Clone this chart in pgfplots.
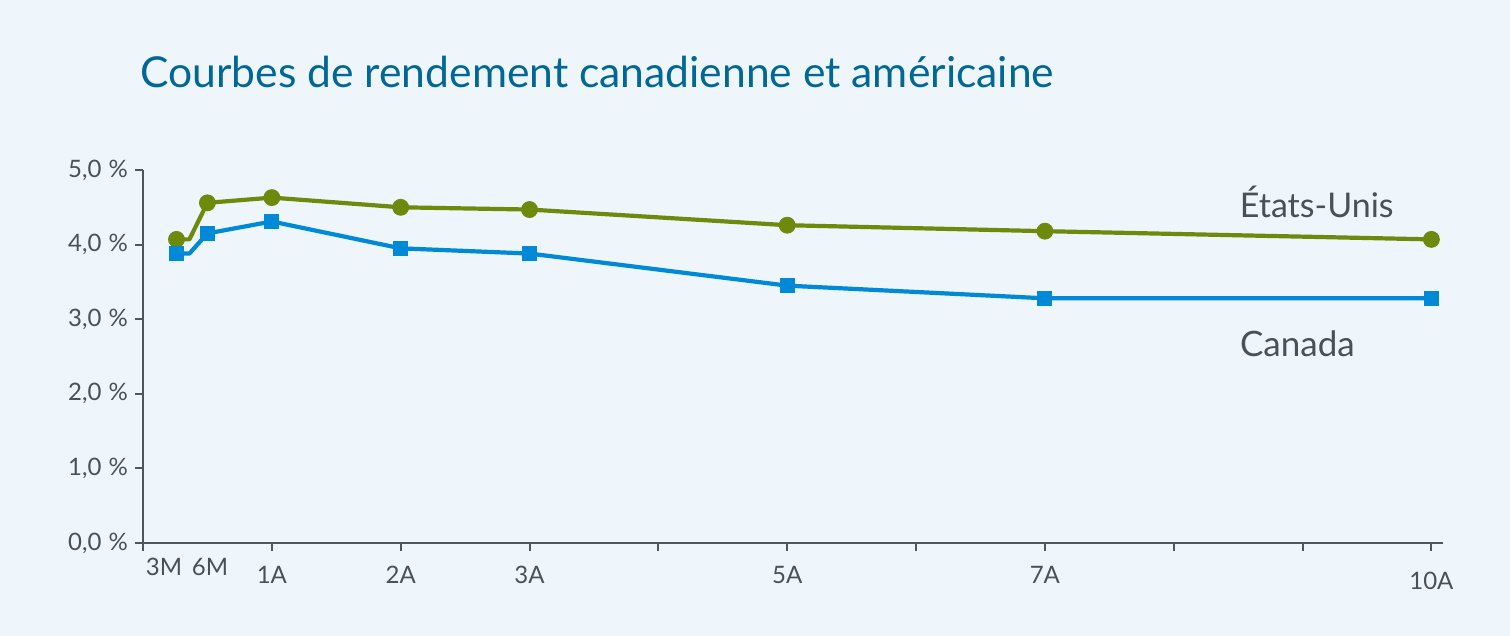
\documentclass[border=0pt]{standalone}
\usepackage{pgfplots}
\pgfplotsset{compat=1.18}
\usepackage{fontspec}
\setmainfont{Lato}
\definecolor{bg}{RGB}{238,245,251}
\definecolor{usgreen}{RGB}{110,138,12}
\definecolor{cablue}{RGB}{0,137,214}
\definecolor{titleblue}{RGB}{0,103,150}
\definecolor{txt}{RGB}{74,80,90}
\definecolor{axisc}{RGB}{80,84,92}
\begin{document}
\begin{tikzpicture}
\path[use as bounding box] (-71.5pt,-46.5pt) rectangle (683.5pt,271.5pt);
\fill[bg] (-71.5pt,-46.5pt) rectangle (683.5pt,271.5pt);
\node[anchor=base west, text=titleblue, font=\fontsize{21.3}{25}\selectfont, inner sep=0pt] at (-1.5pt,227.5pt) {Courbes de rendement canadienne et américaine};
\begin{axis}[
  at={(0pt,0pt)}, anchor=south west,
  scale only axis, width=650pt, height=186.5pt,
  xmin=0, xmax=10.09, ymin=0, ymax=5,
  axis x line*=bottom, axis y line*=left,
  axis line style={axisc, line width=1pt, -},
  xtick={0,1,2,3,4,5,6,7,8,9,10},
  xticklabels={,1A,2A,3A,,5A,,7A,,,},
  extra x ticks={0.163,0.52},
  extra x tick labels={3M,6M},
  extra x tick style={major tick length=0pt},
  ytick={0,1,2,3,4,5},
  yticklabels={{0,0\hspace{0.3em}\%},{1,0\hspace{0.3em}\%},{2,0\hspace{0.3em}\%},{3,0\hspace{0.3em}\%},{4,0\hspace{0.3em}\%},{5,0\hspace{0.3em}\%}},
  tick align=outside, major tick length=4pt,
  tick style={axisc, line width=1pt},
  tick label style={text=txt, font=\fontsize{12}{14}\selectfont},
  xticklabel style={yshift=-4pt},
  yticklabel style={xshift=0pt},
  clip=false,
]
\addplot[usgreen, line width=2.1pt, line join=round] coordinates {
 (0.26,4.07) (0.36,4.07) (0.5,4.56) (1,4.63) (2,4.50) (3,4.47) (5,4.26) (7,4.18) (10,4.07)};
\addplot[cablue, line width=2.1pt, line join=round] coordinates {
 (0.26,3.88) (0.36,3.88) (0.5,4.15) (1,4.31) (2,3.95) (3,3.88) (5,3.45) (7,3.28) (10,3.28)};
\addplot[only marks, mark=*, mark size=4pt, usgreen, mark options={fill=usgreen, draw=usgreen}] coordinates {
 (0.26,4.07) (0.5,4.56) (1,4.63) (2,4.50) (3,4.47) (5,4.26) (7,4.18) (10,4.07)};
\addplot[only marks, mark=square*, mark size=3.5pt, cablue, mark options={fill=cablue, draw=cablue}] coordinates {
 (0.26,3.88) (0.5,4.15) (1,4.31) (2,3.95) (3,3.88) (5,3.45) (7,3.28) (10,3.28)};
\node[text=txt, font=\fontsize{17}{20}\selectfont] at (axis cs:9.11,4.57) {États-Unis};
\node[text=txt, font=\fontsize{17.5}{20}\selectfont] at (axis cs:8.96,2.67) {Canada};
\node[text=txt, font=\fontsize{12}{14}\selectfont, anchor=north] at (axis cs:10,0) [yshift=-11pt] {10A};
\end{axis}
\end{tikzpicture}
\end{document}
